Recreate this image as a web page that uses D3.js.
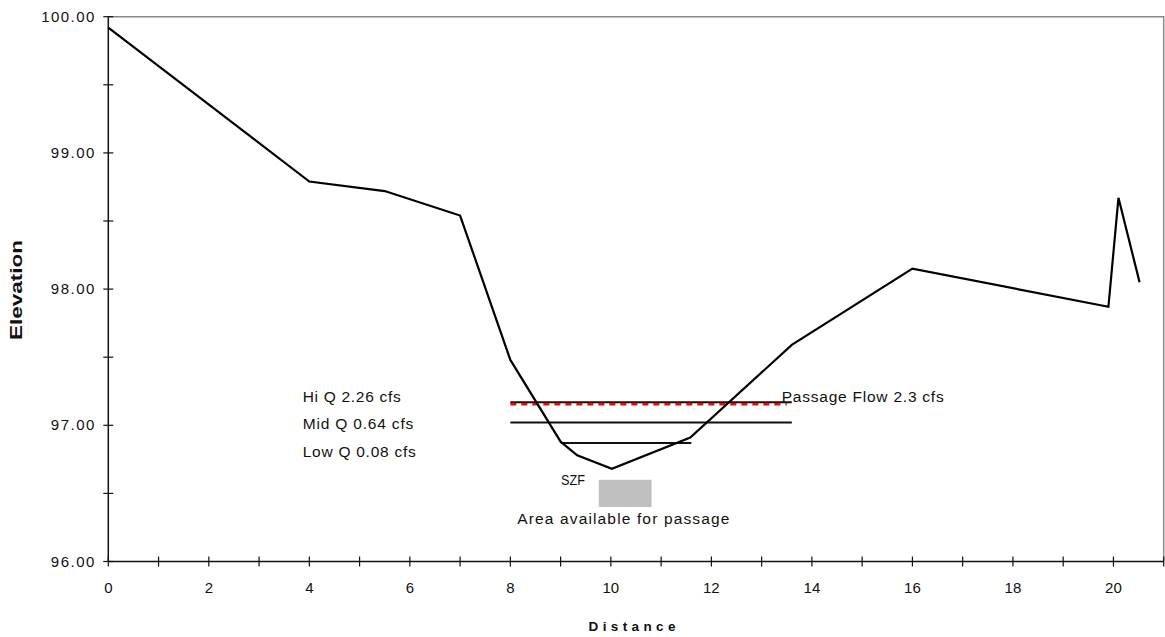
<!DOCTYPE html>
<html><head><meta charset="utf-8">
<script src="https://cdn.jsdelivr.net/npm/d3@7"></script>
<style>body{margin:0;background:#fff}svg{display:block}text{font-family:"Liberation Sans",Arial,sans-serif;fill:#111}</style>
</head><body><svg id="c" width="1165" height="637"></svg>
<script>
const profileX = [0, 4, 5.5, 7, 8, 9, 9.33, 10.02, 11.58, 13.6, 16, 19.9, 20.1, 20.52];
const profileY = [99.92, 98.79, 98.72, 98.54, 97.48, 96.88, 96.78, 96.68, 96.91, 97.59, 98.15, 97.87, 98.67, 98.05];
const flowNames = ["Hi Q 2.26 cfs", "Mid Q 0.64 cfs", "Low Q 0.08 cfs"];
const flowElev = [97.17, 97.02, 96.87];
const flowStart = [8, 8, 9];
const flowEnd = [13.6, 13.6, 11.6];
const passageLabel = "Passage Flow 2.3 cfs";
const passageElev = 97.155;
const passageX = [8, 13.5];
const szfX = [9.76, 10.81];
const szfY = [96.4, 96.6];
const xTicks = [0, 2, 4, 6, 8, 10, 12, 14, 16, 18, 20];
const xMinor = d3.range(0, 22, 1);
const yTicks = [96, 97, 98, 99, 100];
const yMinor = d3.range(96, 100.01, 0.5);

const svg = d3.select("#c");
const x = d3.scaleLinear().domain([0, 21]).range([108.3, 1163.7]);
const y = d3.scaleLinear().domain([96, 100]).range([561.5, 16.7]);

svg.append("path").attr("d", `M${x(0)},${y(100)}H${x(21)}V${y(96)}`)
  .attr("fill", "none").attr("stroke", "#8a8a8a").attr("stroke-width", 1.5);

const yAx = svg.append("g").attr("transform", `translate(${x(0)},0)`);
yAx.append("line").attr("y1", y(96)).attr("y2", y(100)).attr("stroke", "#111").attr("stroke-width", 1.5);
yAx.selectAll("line.t").data(yMinor).join("line").attr("class", "t")
  .attr("x1", -5).attr("x2", 5).attr("y1", d => y(d)).attr("y2", d => y(d)).attr("stroke", "#111").attr("stroke-width", 1.2);
yAx.selectAll("text").data(yTicks).join("text")
  .attr("x", -14).attr("y", d => y(d) + 5).attr("text-anchor", "end")
  .attr("font-size", 15).attr("textLength", d => d >= 100 ? 53 : 43.5).attr("lengthAdjust", "spacing")
  .text(d => d3.format(".2f")(d));

const xAx = svg.append("g").attr("transform", `translate(0,${y(96)})`);
xAx.append("line").attr("x1", x(0)).attr("x2", x(21)).attr("stroke", "#111").attr("stroke-width", 1.5);
xAx.selectAll("line.t").data(xMinor).join("line").attr("class", "t")
  .attr("y1", -5).attr("y2", 5).attr("x1", d => x(d)).attr("x2", d => x(d)).attr("stroke", "#111").attr("stroke-width", 1.2);
xAx.selectAll("text").data(xTicks).join("text")
  .attr("x", d => x(d)).attr("y", 31.5).attr("text-anchor", "middle")
  .attr("font-size", 15).text(d => d);

svg.append("text").attr("x", 632).attr("y", 630.7).attr("text-anchor", "middle")
  .attr("font-size", 13.5).attr("font-weight", "bold").attr("textLength", 87).attr("lengthAdjust", "spacing").text("Distance");
svg.append("text").attr("transform", "translate(22,290) rotate(-90)").attr("text-anchor", "middle")
  .attr("font-size", 17).attr("font-weight", 900).attr("textLength", 100).attr("lengthAdjust", "spacingAndGlyphs").text("Elevation");

svg.append("rect").attr("x", x(szfX[0])).attr("y", y(szfY[1]))
  .attr("width", x(szfX[1]) - x(szfX[0])).attr("height", y(szfY[0]) - y(szfY[1])).attr("fill", "#c0c0c0");

svg.selectAll("line.flow").data(flowElev).join("line").attr("class", "flow")
  .attr("x1", (d, i) => x(flowStart[i])).attr("x2", (d, i) => x(flowEnd[i]))
  .attr("y1", d => y(d)).attr("y2", d => y(d)).attr("stroke", "#111").attr("stroke-width", 2);

svg.append("line").attr("x1", x(passageX[0])).attr("x2", x(passageX[1]))
  .attr("y1", y(passageElev)).attr("y2", y(passageElev))
  .attr("stroke", "#ff0000").attr("stroke-width", 2.5).attr("stroke-dasharray", "6,5");

const line = d3.line().x(d => x(d[0])).y(d => y(d[1]));
svg.append("path").datum(profileX.map((v, i) => [v, profileY[i]]))
  .attr("d", line).attr("fill", "none").attr("stroke", "#000").attr("stroke-width", 2.2);

const labelLen = [98, 110.6, 113];
const labelY = [401.7, 429, 456.7];
svg.selectAll("text.fl").data(flowNames).join("text").attr("class", "fl")
  .attr("x", 302.7).attr("y", (d, i) => labelY[i]).attr("font-size", 15.5)
  .attr("textLength", (d, i) => labelLen[i]).attr("lengthAdjust", "spacing").text(d => d);
svg.append("text").attr("x", 781.7).attr("y", 402.3).attr("font-size", 15.5)
  .attr("textLength", 162).attr("lengthAdjust", "spacing").text(passageLabel);
svg.append("text").attr("x", 561).attr("y", 485).attr("font-size", 15.5)
  .attr("textLength", 24).attr("lengthAdjust", "spacingAndGlyphs").text("SZF");
svg.append("text").attr("x", 517.3).attr("y", 524).attr("font-size", 15.5)
  .attr("textLength", 212).attr("lengthAdjust", "spacing").text("Area available for passage");
</script></body></html>
